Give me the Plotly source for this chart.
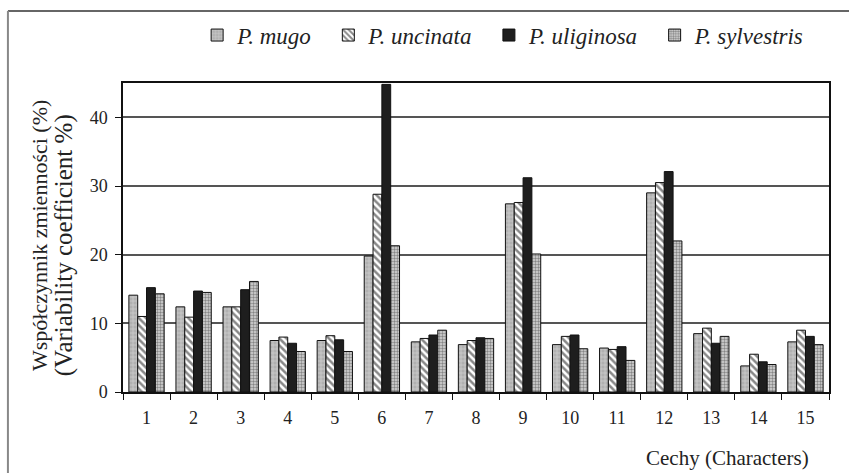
import plotly.graph_objects as go

characters = [str(i) for i in range(1, 16)]
p_mugo = [14.1, 12.4, 12.4, 7.5, 7.5, 19.8, 7.3, 6.9, 27.4, 6.9, 6.4, 29.0, 8.5, 3.8, 7.3]
p_uncinata = [11.0, 10.9, 12.4, 8.0, 8.2, 28.8, 7.8, 7.5, 27.6, 8.1, 6.2, 30.5, 9.3, 5.5, 9.0]
p_uliginosa = [15.2, 14.7, 14.9, 7.1, 7.6, 44.8, 8.3, 7.9, 31.2, 8.3, 6.6, 32.1, 7.1, 4.4, 8.1]
p_sylvestris = [14.3, 14.5, 16.1, 5.9, 5.9, 21.3, 9.0, 7.8, 20.1, 6.3, 4.6, 22.0, 8.1, 4.0, 6.9]

series_names = ["P. mugo", "P. uncinata", "P. uliginosa", "P. sylvestris"]

SERIF = "Liberation Serif"

styles = [
    dict(color="#b8b8b8", pattern=dict(shape="+", fgcolor="#f2f2f2", bgcolor="#b0b0b0", size=4, solidity=0.3)),
    dict(color="white", pattern=dict(shape="\\", fgcolor="#111", bgcolor="white", size=5, solidity=0.5)),
    dict(color="#1e1e1e"),
    dict(color="#aaa", pattern=dict(shape=".", fgcolor="#333", bgcolor="#d8d8d8", size=3, solidity=0.5)),
]

fig = go.Figure()
for name, vals, st in zip(series_names, [p_mugo, p_uncinata, p_uliginosa, p_sylvestris], styles):
    marker = dict(color=st["color"], line=dict(color="#111", width=1))
    if "pattern" in st:
        marker["pattern"] = st["pattern"]
    fig.add_trace(go.Bar(x=characters, y=vals, name=f"<i>{name}</i>&nbsp;&nbsp;", marker=marker))

fig.update_layout(
    width=849, height=473,
    margin=dict(l=123, r=20, t=83, b=81),
    paper_bgcolor="white", plot_bgcolor="white",
    barmode="group", bargap=0.25, bargroupgap=0,
    font=dict(family=SERIF, color="#222", size=18),
    showlegend=True,
    legend=dict(orientation="h", x=0.105, xanchor="left", y=1.155, yanchor="middle",
                font=dict(family=SERIF, size=23, color="#222"),
                itemwidth=30, traceorder="normal", bgcolor="rgba(0,0,0,0)"),
    xaxis=dict(type="category", showgrid=False, showline=True, linecolor="#111", linewidth=1.5,
               mirror=True, ticks="outside", tickson="boundaries", ticklen=6, tickcolor="#111",
               tickfont=dict(size=18, family=SERIF), zeroline=False, ticklabelstandoff=9),
    yaxis=dict(range=[0, 45], tickvals=[0, 10, 20, 30, 40], showgrid=True, gridcolor="#555",
               gridwidth=1.5, showline=True, linecolor="#111", linewidth=1.5, mirror=True,
               ticks="outside", ticklen=6, tickcolor="#111", zeroline=False,
               tickfont=dict(size=18, family=SERIF), ticklabelstandoff=4),
    annotations=[
        dict(text="Współczynnik zmienności (%)", textangle=-90,
             xref="paper", yref="paper", x=(40 - 123) / 706, y=0.505, xanchor="center", yanchor="middle",
             showarrow=False, font=dict(family=SERIF, size=22, color="#222")),
        dict(text="(Variability coefficient %)", textangle=-90,
             xref="paper", yref="paper", x=(64 - 123) / 706, y=0.475, xanchor="center", yanchor="middle",
             showarrow=False, font=dict(family=SERIF, size=25, color="#222")),
        dict(text="Cechy (Characters)", xref="paper", yref="paper", x=(727 - 123) / 706, y=-0.214,
             xanchor="center", yanchor="middle", showarrow=False,
             font=dict(family=SERIF, size=21, color="#222")),
    ],
    shapes=[
        dict(type="line", xref="paper", yref="paper", x0=-0.163, x1=1.1, y0=1.233, y1=1.233,
             line=dict(color="#333", width=1.5)),
        dict(type="line", xref="paper", yref="paper", x0=-0.163, x1=-0.163, y0=1.233, y1=-0.4,
             line=dict(color="#888", width=2)),
    ],
)

fig.write_html("out.html", config={"displayModeBar": False},
               post_script="document.body.style.margin='0';document.body.style.padding='0';")
